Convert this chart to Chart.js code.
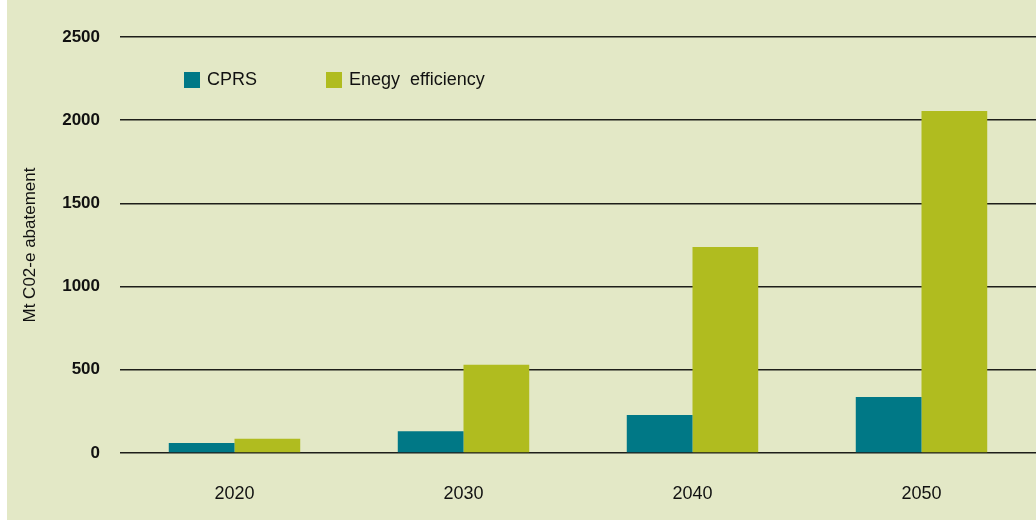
<!DOCTYPE html>
<html>
<head>
<meta charset="utf-8">
<script src="https://cdn.jsdelivr.net/npm/chart.js@4/dist/chart.umd.min.js"></script>
<style>
  html, body { margin: 0; padding: 0; background: #fff; }
  #wrap { width: 1036px; height: 520px; }
</style>
</head>
<body>
<div id="wrap"><canvas id="abatement"></canvas></div>
<script>
// data
var years = ["2020", "2030", "2040", "2050"];
var cprs = [60, 130, 228, 336];
var energyEfficiency = [85, 530, 1238, 2055];
var yTicks = [0, 500, 1000, 1500, 2000, 2500];

var bg = "#e3e8c6";

// background panel (white strip on the left like the original)
var panelBg = {
    id: "panelBg",
    beforeDraw: function (chart) {
        var c = chart.ctx;
        c.save();
        c.fillStyle = "#ffffff";
        c.fillRect(0, 0, chart.width, chart.height);
        c.fillStyle = bg;
        c.fillRect(7, 0, chart.width - 7, chart.height);
        c.restore();
    }
};

// legend sits inside the plot, top left
var innerLegend = {
    id: "innerLegend",
    afterDraw: function (chart) {
        var c = chart.ctx;
        var spots = [184, 326];
        c.save();
        c.font = "18px 'Liberation Sans', Arial, sans-serif";
        c.textBaseline = "middle";
        chart.data.datasets.forEach(function (ds, i) {
            c.fillStyle = ds.backgroundColor;
            c.fillRect(spots[i], 72, 16, 16);
            c.fillStyle = "#111";
            c.fillText(ds.label, spots[i] + 23, 80);
        });
        c.restore();
    }
};

var ctx = document.getElementById("abatement");
var chart = new Chart(ctx, {
    type: "bar",
    data: {
        labels: years,
        datasets: [
            { label: "CPRS", data: cprs, backgroundColor: "#007886" },
            { label: "Enegy  efficiency", data: energyEfficiency, backgroundColor: "#b0bc1f" }
        ]
    },
    options: {
        responsive: true,
        maintainAspectRatio: false,
        animation: false,
        layout: { padding: { left: 2, right: 0, top: 37, bottom: 0 } },
        datasets: { bar: { barPercentage: 1, categoryPercentage: 0.574 } },
        plugins: {
            legend: { display: false },
            tooltip: { enabled: false }
        },
        scales: {
            x: {
                grid: { display: false, drawTicks: false },
                border: { display: false },
                ticks: {
                    color: "#111",
                    padding: 30,
                    font: { family: "'Liberation Sans', Arial, sans-serif", size: 18 }
                },
                afterFit: function (s) { s.height = 67; }
            },
            y: {
                min: 0,
                max: 2500,
                afterBuildTicks: function (s) {
                    s.ticks = yTicks.map(function (v) { return { value: v }; });
                },
                grid: { color: "#1e1e1a", lineWidth: 1.4, drawTicks: false },
                border: { display: false },
                ticks: {
                    color: "#111",
                    padding: 20,
                    callback: function (v) { return String(v); },
                    font: { family: "'Liberation Sans', Arial, sans-serif", size: 17, weight: "bold" }
                },
                title: {
                    display: true,
                    text: "Mt C02-e abatement",
                    color: "#111",
                    padding: { top: 18, bottom: 0 },
                    font: { family: "'Liberation Sans', Arial, sans-serif", size: 17 }
                },
                afterFit: function (s) { s.width = 118; }
            }
        }
    },
    plugins: [panelBg, innerLegend]
});
</script>
</body>
</html>
